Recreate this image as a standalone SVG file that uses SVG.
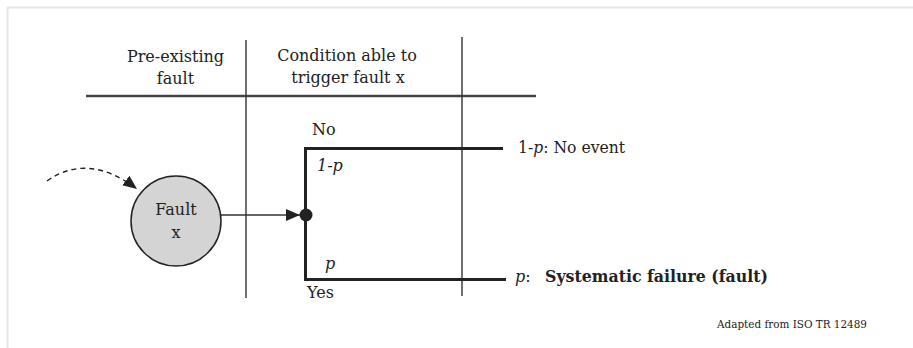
<svg xmlns="http://www.w3.org/2000/svg" width="913" height="348" viewBox="0 0 913 348">
<style>
text{font-family:'DejaVu Serif',serif;fill:#222;font-size:16px}
.c{text-anchor:middle}
.i{font-style:italic}
.thin{stroke:#333;stroke-width:1.4;fill:none}
.thick{stroke:#222;stroke-width:3;fill:none}
</style>
<defs>
<marker id="ah" markerWidth="14" markerHeight="12" refX="14" refY="6" orient="auto" markerUnits="userSpaceOnUse">
<path d="M0,0 L14,6 L0,12 Z" fill="#222"/>
</marker>
</defs>
<rect x="0" y="0" width="913" height="348" fill="#fff"/>
<g id="frame" stroke="#e6e6e6" stroke-width="2" fill="none">
<line x1="7" y1="7.5" x2="913" y2="7.5"/>
<line x1="7.5" y1="7" x2="7.5" y2="348"/>
</g>
<g id="table">
<line x1="86" y1="96" x2="536" y2="96" stroke="#444" stroke-width="2.6"/>
<line class="thin" x1="246" y1="40" x2="246" y2="298"/>
<line class="thin" x1="462" y1="37" x2="462" y2="296"/>
<text class="c" x="175.5" y="61.5">Pre-existing</text>
<text class="c" x="175.5" y="84">fault</text>
<text class="c" x="347" y="61">Condition able to</text>
<text class="c" x="348" y="83">trigger fault x</text>
</g>
<g id="connectors">
<path d="M47,181 Q88,152 137,189" stroke="#222" stroke-width="1.4" fill="none" stroke-dasharray="5,4" marker-end="url(#ah)"/>
<line class="thin" x1="221" y1="215" x2="300" y2="215" marker-end="url(#ah)"/>
<path class="thick" d="M503,148.5 H305.5 V279.5 H506"/>
</g>
<g id="fault-x">
<circle cx="176" cy="221" r="45" fill="#d4d4d4" stroke="#222" stroke-width="1.5"/>
<text class="c" x="176" y="215">Fault</text>
<text class="c" x="176" y="238">x</text>
</g>
<g id="branch-node">
<circle cx="306" cy="215" r="6.5" fill="#222"/>
<text x="312" y="135">No</text>
<text class="i" x="317" y="171">1-p</text>
<text class="i" x="325" y="269">p</text>
<text x="307" y="298">Yes</text>
</g>
<g id="outcome-no">
<text x="518" y="153" textLength="107" lengthAdjust="spacingAndGlyphs">1-<tspan font-style="italic">p</tspan>: No event</text>
</g>
<g id="outcome-yes">
<text x="515" y="282"><tspan font-style="italic">p</tspan>:</text>
<text x="545" y="282" font-weight="bold" textLength="223" lengthAdjust="spacingAndGlyphs">Systematic failure (fault)</text>
</g>
<text x="717" y="328" style="font-size:11px" textLength="150" lengthAdjust="spacingAndGlyphs">Adapted from ISO TR 12489</text>
</svg>
